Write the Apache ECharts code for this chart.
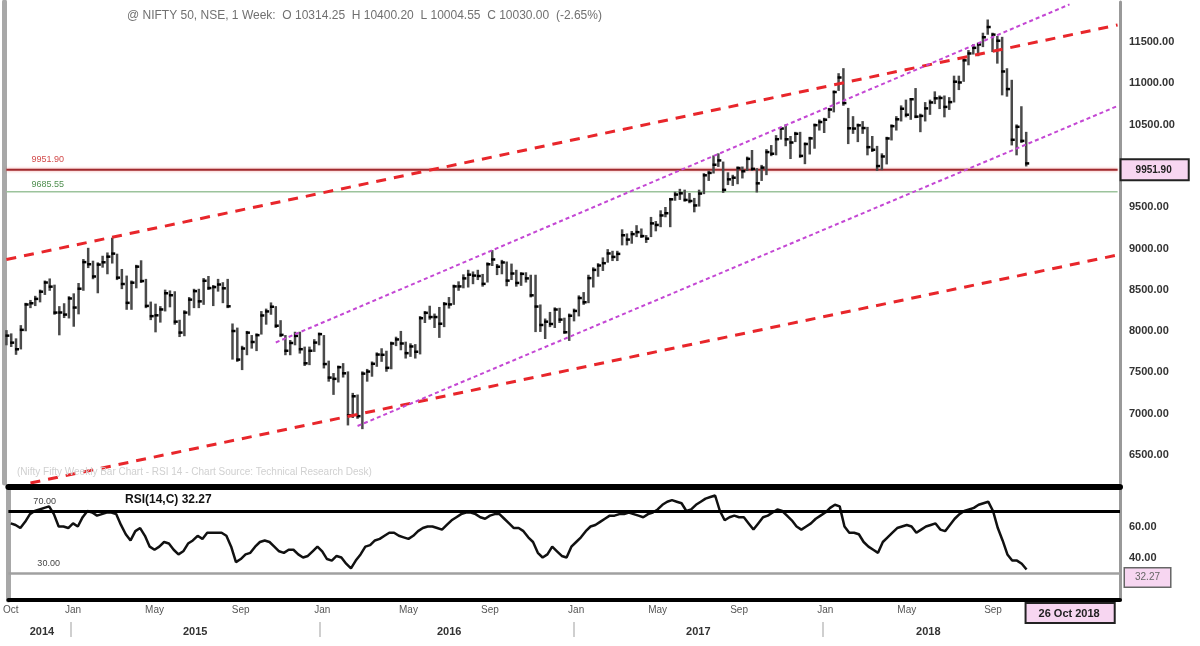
<!DOCTYPE html>
<html><head><meta charset="utf-8">
<script src="https://cdn.jsdelivr.net/npm/echarts@6/dist/echarts.min.js"></script>
<style>html,body{margin:0;padding:0;background:#fff}#c{width:1200px;height:646px}</style>
</head><body><div id="c"></div>
<script>
// ---------- DATA (weekly) ----------
const firstWeek = '2014-10-03';
const totalSlots = 232; // weeks incl. empty space on the right

const high2014 = [8000,7960,7900,8060,8330,8365,8415,8490,8600,8625,8550,8290,8325];
const low2014  = [7840,7820,7725,7790,8010,8290,8315,8360,8450,8500,8210,7961,8170];
const close2014= [7945,7860,7780,8015,8322,8337,8390,8477,8588,8538,8224,8225,8200];

const high2015 = [8410,8445,8570,8860,8996,8840,8820,8900,8940,9119,8925,8740,8660,8600,8790,8845,8620,8345,8320,8290,8490,8480,8470,8125,8240,8400,8500,8500,8630,8655,8545,8620,8580,8620,8080,8030,7810,7990,7940,7960,8230,8260,8335,8290,8120,7940,7880,7980,7980,7800,7800,7890];
const low2015  = [8165,8065,8215,8500,8775,8640,8470,8780,8700,8830,8630,8520,8270,8270,8530,8595,8290,8145,7997,8115,8250,8300,8090,7940,7950,8200,8290,8290,8330,8510,8315,8490,8350,8290,7667,7640,7540,7720,7800,7770,7970,8090,8210,8050,7940,7720,7720,7840,7740,7590,7600,7760];
const close2015= [8395,8285,8513,8835,8809,8661,8805,8833,8901,8938,8647,8570,8342,8586,8780,8606,8305,8181,8191,8262,8458,8434,8114,7982,8224,8381,8484,8360,8609,8521,8533,8564,8518,8300,8001,7655,7789,7981,7868,7951,8189,8238,8295,8065,7954,7762,7856,7942,7781,7610,7762,7861];

const high2016 = [7970,7940,7630,7480,7570,7600,7500,7240,7220,7500,7530,7620,7730,7780,7750,7860,7920,7990,7860,7840,7830,8170,8230,8295,8200,8280,8340,8400,8550,8590,8675,8730,8710,8730,8680,8820,8968,8800,8850,8830,8805,8730,8700,8700,8670,8670,8310,8140,8220,8275,8270,8150,8200];
const low2016  = [7840,7560,7400,7240,7390,7450,6870,6960,6950,6825,7400,7460,7580,7640,7520,7550,7830,7780,7680,7700,7680,7730,8110,8150,8050,7930,8060,8285,8330,8500,8530,8540,8580,8630,8550,8600,8800,8690,8700,8555,8630,8550,8560,8600,8420,8000,8002,7916,8060,8050,8110,7980,7893];
const close2016= [7963,7601,7437,7422,7563,7489,6981,7211,6970,7485,7510,7604,7716,7713,7555,7850,7899,7850,7733,7814,7750,8156,8221,8170,8170,8089,8328,8323,8541,8541,8638,8683,8672,8667,8572,8809,8867,8779,8831,8611,8697,8583,8693,8638,8433,8297,8074,8114,8086,8261,8139,7986,8186];

const high2017 = [8260,8420,8460,8670,8760,8810,8880,8980,8960,8960,9220,9170,9200,9270,9230,9150,9370,9320,9450,9490,9600,9675,9710,9700,9660,9600,9700,9900,9930,10115,10140,10040,9910,9880,9980,9980,10100,10180,9960,10000,10190,10240,10360,10460,10490,10350,10400,10400,10270,10340,10500,10550];
const low2017  = [8130,8190,8330,8350,8540,8670,8740,8840,8860,8860,9050,9050,9070,9150,9140,9080,9150,9220,9270,9390,9270,9590,9600,9580,9560,9450,9520,9670,9830,9920,10000,9685,9780,9770,9790,9860,9950,9950,9690,9830,9900,10130,10140,10330,10250,10095,10300,10110,10033,10150,10220,10440];
const close2017= [8244,8400,8349,8641,8741,8794,8822,8940,8898,8935,9160,9108,9174,9198,9150,9119,9304,9285,9400,9427,9595,9653,9668,9588,9575,9521,9665,9886,9915,10014,10066,9710,9837,9857,9974,9935,10085,9964,9789,9979,10167,10147,10323,10452,10322,10283,10389,10121,10265,10333,10493,10531];

const high2018 = [10570,10690,10900,11110,11171,10690,10590,10500,10530,10460,10350,10230,10140,10340,10490,10590,10720,10790,10810,10930,10620,10760,10790,10890,10840,10840,10820,11080,11080,11290,11390,11460,11480,11600,11760,11600,11560,11550,11170,11030,10490,10710,10400];
const low2018  = [10410,10590,10660,10920,10740,10276,10400,10300,10400,10140,10180,9951,9960,10030,10320,10440,10550,10600,10570,10590,10420,10550,10630,10760,10700,10600,10690,10780,10930,11030,11230,11360,11340,11450,11600,11390,11250,10866,10850,10260,10140,10290,10005];
const close2018= [10559,10682,10894,11070,10761,10455,10452,10491,10458,10227,10195,9998,10114,10332,10481,10564,10692,10619,10807,10596,10605,10696,10768,10818,10822,10714,10772,11019,11010,11278,11361,11429,11470,11557,11681,11589,11515,11143,10930,10316,10473,10303,10030];

const rsi = [62,61,59,63,68,70,71,72,73,68, 60,60,59,62,60,66,70,69,67,68, 69,69,68,61,55,51,57,59,54,47,
 45,47,50,49,45,42,44,49,51,54, 52,56,56,56,56,54,47,37,39,42, 43,47,50,51,50,47,44,43,45,45,
 42,40,41,44,47,44,39,38,41,40, 36,33,38,42,47,48,51,52,54,56, 56,54,53,
 52,54,57,59,60,60,59,58,61,64, 66,68,69,69,68,66,65,67,68,68, 65,62,59,59,57,53,50,43,40,42,
 47,44,41,40,47,50,53,57,60,61, 63,65,67,67,68,68,69,68,67,66, 68,69,71,74,76,77,76,75,70,71,
 74,76,78,79,80,70,64,66,67,66, 66,62,58,62,66,67,69,71,70,
 67,64,60,58,60,62,65,67,69,72, 74,73,60,56,56,55,50,47,45,43, 50,53,56,59,60,61,60,56,58,60,
 61,62,58,57,61,65,68,70,71,72, 74,75,76,70,59,51,42,38,38,36, 32.27];

// trend lines: [week index, price]
const redUpper     = [[0, 8866], [231, 11706]];
const redLower     = [[5, 6161], [231, 8921]];
const channelUpper = [[56, 7862], [221, 11955]];
const channelLower = [[73, 6851], [231, 10725]];
const supportLevels = [9951.90, 9685.55];
const rsiLevels = [70, 30];

const priceTicks = [6500,7000,7500,8000,8500,9000,9500,10000,10500,11000,11500];
const rsiTicks = [40, 60];
const monthAbbr = ['Jan','Feb','Mar','Apr','May','Jun','Jul','Aug','Sep','Oct','Nov','Dec'];
const labeledMonths = ['Jan','May','Sep'];
const yearLabels = ['2014','2015','2016','2017','2018'];

// ---------- BUILD ----------
const highs = [].concat(high2014,high2015,high2016,high2017,high2018);
const lows = [].concat(low2014,low2015,low2016,low2017,low2018);
const closes = [].concat(close2014,close2015,close2016,close2017,close2018);
if (highs.length!==lows.length || lows.length!==closes.length || closes.length!==rsi.length)
  throw new Error('length mismatch '+highs.length+' '+lows.length+' '+closes.length+' '+rsi.length);
const nData = closes.length;

const t0 = Date.parse(firstWeek+'T00:00:00Z');
const dates = [];
for (let i=0;i<=totalSlots;i++) dates.push(new Date(t0 + i*7*86400000));
const cats = dates.slice(0,totalSlots).map(d=>d.toISOString().slice(0,10));
const bounds = dates.map(d=>d.toISOString().slice(0,10)); // totalSlots+1 week boundaries

const isMonthLabel = i => {
  if (i>=nData) return false;
  if (i===0) return true;
  const d = dates[i];
  return d.getUTCDate()<=7 && labeledMonths.indexOf(monthAbbr[d.getUTCMonth()])>=0;
};
const isYearStart = i => i<nData && i>0 && dates[i].getUTCMonth()===0 && dates[i].getUTCDate()<=7;
const yearMid = {};
yearLabels.forEach(y=>{
  const idx=[]; for(let i=0;i<nData;i++) if(String(dates[i].getUTCFullYear())===y) idx.push(i);
  if(idx.length) yearMid[Math.round((idx[0]+idx[idx.length-1]+1)/2)] = y;
});

const ohlc = [];
for (let i=0;i<nData;i++) ohlc.push([i, highs[i], lows[i], closes[i]]);
const last = nData-1;
const lastDate = dates[last];
const lastDateStr = lastDate.getUTCDate()+' '+monthAbbr[lastDate.getUTCMonth()]+' '+lastDate.getUTCFullYear();

const pink = '#f7d6f1';
const hidden = {color:'rgba(0,0,0,0)', width:0};
const trend = (data, color, width, dash) => ({
  type:'line', xAxisIndex:0, yAxisIndex:0, data, symbol:'none', silent:true,
  lineStyle:{color, width, type:dash}, z:5, animation:false
});

const option = {
  animation:false,
  backgroundColor:'#fff',
  textStyle:{fontFamily:'Arial, Liberation Sans, sans-serif'},
  title:[
    {text:'@ NIFTY 50, NSE, 1 Week:  O 10314.25  H 10400.20  L 10004.55  C 10030.00  (-2.65%)', left:122, top:5,
     textStyle:{fontSize:12, color:'#707070', fontWeight:'normal'}},
    {text:'(Nifty Fifty Weekly Bar Chart - RSI 14 - Chart Source: Technical Research Desk)', left:12, top:462,
     textStyle:{fontSize:10, color:'#d0d0d0', fontWeight:'normal'}},
    {text:'RSI(14,C) '+rsi[last].toFixed(2), left:120, top:489,
     textStyle:{fontSize:12, color:'#111', fontWeight:'bold'}}
  ],
  grid:[
    {left:4, width:1116, top:2, height:481},
    {left:4, width:1116, top:487, height:113}
  ],
  xAxis:[
    {type:'category', gridIndex:0, data:cats, boundaryGap:true, show:false},
    {type:'category', gridIndex:1, data:cats, boundaryGap:true, position:'bottom',
     axisLine:{lineStyle:{color:'#000', width:4}}, axisTick:{show:false},
     axisLabel:{interval:(i)=>isMonthLabel(i), formatter:(v,i)=>monthAbbr[dates[i].getUTCMonth()],
       color:'#555', fontSize:10, margin:5}},
    {type:'category', gridIndex:1, data:cats, boundaryGap:true, position:'top',
     axisLine:{lineStyle:{color:'#000', width:6}}, axisTick:{show:false}, axisLabel:{show:false}},
    {type:'category', gridIndex:1, data:bounds, boundaryGap:false, position:'bottom', offset:22,
     axisLine:{show:false},
     axisTick:{show:true, interval:(i)=>isYearStart(i), length:15, lineStyle:{color:'#cfcfcf', width:2}},
     axisLabel:{interval:(i)=>yearMid[i]!==undefined, formatter:(v,i)=>yearMid[i]||'',
       color:'#333', fontSize:11, fontWeight:'bold', margin:4}}
  ],
  yAxis:[
    {type:'value', gridIndex:0, position:'right', min:6161, max:11984, splitLine:{show:false},
     axisLine:{show:true, lineStyle:{color:'#999', width:3}}, axisTick:{show:false},
     axisLabel:{customValues:priceTicks, formatter:v=>v.toFixed(2), color:'#333', fontSize:11, fontWeight:'bold', margin:9}},
    {type:'value', gridIndex:0, position:'left', min:6161, max:11984, splitLine:{show:false},
     axisLine:{show:true, lineStyle:{color:'#a8a8a8', width:5}}, axisTick:{show:false}, axisLabel:{show:false}},
    {type:'value', gridIndex:1, position:'right', min:12.58, max:85.48, splitLine:{show:false},
     axisLine:{show:true, lineStyle:{color:'#999', width:3}}, axisTick:{show:false},
     axisLabel:{customValues:rsiTicks, formatter:v=>v.toFixed(2), color:'#333', fontSize:11, fontWeight:'bold', margin:9}},
    {type:'value', gridIndex:1, position:'left', min:12.58, max:85.48, splitLine:{show:false},
     axisLine:{show:true, lineStyle:{color:'#a8a8a8', width:5}}, axisTick:{show:false}, axisLabel:{show:false}}
  ],
  series:[
    // support lines
    {type:'line', xAxisIndex:0, yAxisIndex:0, symbol:'none', silent:true, z:3,
     data:[[0,supportLevels[0]],[totalSlots-1,supportLevels[0]]],
     lineStyle:{color:'#a02a2e', width:2, shadowColor:'rgba(230,80,80,0.6)', shadowBlur:3},
     endLabel:{show:true, formatter:()=>supportLevels[0].toFixed(2), backgroundColor:pink,
       borderColor:'#222', borderWidth:2, padding:[5,16,4,14], color:'#222', fontSize:10, fontWeight:'bold', distance:4},
     markPoint:{symbol:'circle', symbolSize:0, data:[{coord:[0,supportLevels[0]],
       label:{show:true, formatter:supportLevels[0].toFixed(2), position:'right', offset:[20,-10], color:'#d24a4a', fontSize:9}}]}
    },
    {type:'line', xAxisIndex:0, yAxisIndex:0, symbol:'none', silent:true, z:3,
     data:[[0,supportLevels[1]],[totalSlots-1,supportLevels[1]]],
     lineStyle:{color:'#9cc39c', width:1.5},
     markPoint:{symbol:'circle', symbolSize:0, data:[{coord:[0,supportLevels[1]],
       label:{show:true, formatter:supportLevels[1].toFixed(2), position:'right', offset:[20,-7], color:'#4f8f4f', fontSize:9}}]}
    },
    // price bars
    {type:'custom', xAxisIndex:0, yAxisIndex:0, data:ohlc, z:4,
     encode:{x:0, y:[1,2,3]},
     renderItem:(params, api)=>{
       const i = api.value(0);
       const hi = api.coord([i, api.value(1)]);
       const lo = api.coord([i, api.value(2)]);
       const cl = api.coord([i, api.value(3)]);
       return {type:'group', children:[
         {type:'line', shape:{x1:hi[0],y1:hi[1]-1,x2:lo[0],y2:lo[1]+1}, style:{stroke:'#4a4a4a', lineWidth:2.5}},
         {type:'line', shape:{x1:cl[0]-1,y1:cl[1],x2:cl[0]+3,y2:cl[1]}, style:{stroke:'#000', lineWidth:2.5}}
       ]};
     }},
    trend(redUpper, '#e8262b', 3, [10,8]),
    trend(redLower, '#e8262b', 3, [10,8]),
    trend(channelUpper, '#c447d4', 2, [4,3]),
    trend(channelLower, '#c447d4', 2, [4,3]),
    // RSI
    {type:'line', xAxisIndex:1, yAxisIndex:2, data:rsi, symbol:'none', z:4,
     lineStyle:{color:'#111', width:2.5},
     markLine:{symbol:'none', silent:true, animation:false,
       data:[
         {yAxis:rsiLevels[0], lineStyle:{color:'#000', width:3, type:'solid'},
          label:{show:true, position:'insideStartTop', formatter:rsiLevels[0].toFixed(2), color:'#444', fontSize:9, padding:[0,0,0,20]}},
         {yAxis:rsiLevels[1], lineStyle:{color:'#a0a0a0', width:2.5, type:'solid'},
          label:{show:true, position:'insideStartTop', formatter:rsiLevels[1].toFixed(2), color:'#444', fontSize:9, padding:[0,0,0,24]}},
         {yAxis:rsi[last], lineStyle:hidden,
          label:{show:true, position:'end', formatter:rsi[last].toFixed(2), backgroundColor:pink, borderColor:'#666', borderWidth:1.5,
            padding:[4,10,4,10], color:'#666', fontSize:10, offset:[0,8], opacity:1}},
         {xAxis:cats[last], lineStyle:hidden,
          label:{show:true, position:'start', formatter:lastDateStr, backgroundColor:pink, borderColor:'#222', borderWidth:2,
            padding:[4,14,3,12], color:'#222', fontSize:11, fontWeight:'bold', distance:4, align:'left', opacity:1}}
       ]}
    }
  ]
};
const chart = echarts.init(document.getElementById('c'));
chart.setOption(option);
</script></body></html>
